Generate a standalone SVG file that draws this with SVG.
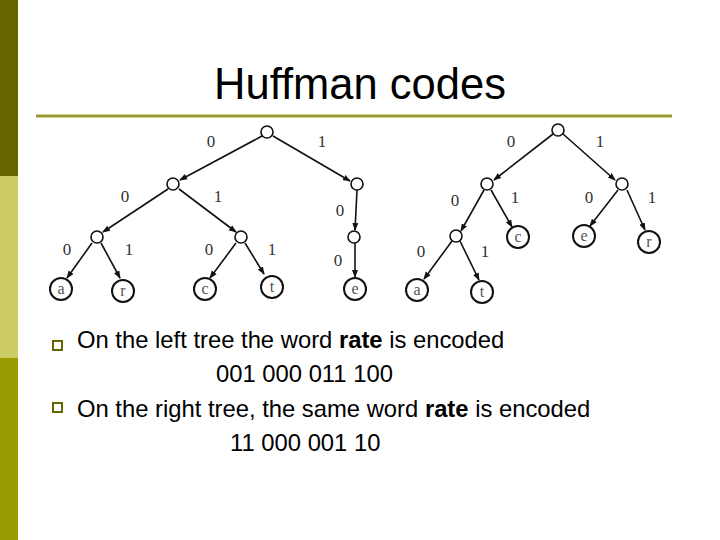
<svg xmlns="http://www.w3.org/2000/svg" width="720" height="540" viewBox="0 0 720 540">
<style>
.ed{stroke:#111;stroke-width:1.6;fill:none;marker-end:url(#ah)}
.in{fill:#fff;stroke:#111;stroke-width:1.6}
.lf{fill:#fff;stroke:#111;stroke-width:2}
.lt{font-family:"Liberation Serif",serif;font-size:17px;fill:#333;text-anchor:middle}
.bl{font-family:"Liberation Serif",serif;font-size:16px;fill:#555;text-anchor:middle}
.tx{font-family:"Liberation Sans",Arial,sans-serif;font-size:23.8px;fill:#000}
</style>
<defs><marker id="ah" markerWidth="8" markerHeight="8" refX="7" refY="4" orient="auto" markerUnits="userSpaceOnUse"><path d="M0,1 L8,4 L0,7 z" fill="#111"/></marker></defs>
<rect x="0" y="0" width="720" height="540" fill="#fff"/>
<rect x="0" y="0" width="18" height="176" fill="#666600"/>
<rect x="0" y="176" width="18" height="182" fill="#cccc66"/>
<rect x="0" y="358" width="18" height="182" fill="#999900"/>
<text x="360" y="99" font-family="Liberation Sans,Arial,sans-serif" font-size="43.5" text-anchor="middle">Huffman codes</text>
<line x1="36" y1="116" x2="672" y2="116" stroke="#999933" stroke-width="3"/>
<g id="connectors">
<line class="ed" x1="262" y1="136" x2="180" y2="180"/>
<line class="ed" x1="273" y1="136" x2="350" y2="181"/>
<line class="ed" x1="168" y1="189" x2="103" y2="232"/>
<line class="ed" x1="179" y1="189" x2="236" y2="232"/>
<line class="ed" x1="357" y1="190" x2="355" y2="230"/>
<line class="ed" x1="92" y1="243" x2="67" y2="278"/>
<line class="ed" x1="101" y1="243" x2="120" y2="278"/>
<line class="ed" x1="236" y1="243" x2="210" y2="278"/>
<line class="ed" x1="245" y1="243" x2="264" y2="274"/>
<line class="ed" x1="355" y1="243" x2="355" y2="277" stroke-width="2.5"/>
<line class="ed" x1="553" y1="134" x2="494" y2="180"/>
<line class="ed" x1="563" y1="134" x2="615" y2="180"/>
<line class="ed" x1="484" y1="190" x2="461" y2="231"/>
<line class="ed" x1="491" y1="190" x2="512" y2="227"/>
<line class="ed" x1="618" y1="190" x2="590" y2="226"/>
<line class="ed" x1="627" y1="190" x2="645" y2="230"/>
<line class="ed" x1="452" y1="241" x2="424" y2="279"/>
<line class="ed" x1="460" y1="241" x2="479" y2="280"/>
</g>
<g id="left-tree">
<circle class="in" cx="267" cy="132" r="6"/>
<circle class="in" cx="173" cy="184" r="6"/>
<circle class="in" cx="357" cy="184" r="6"/>
<circle class="in" cx="97" cy="237" r="6"/>
<circle class="in" cx="241" cy="237" r="6"/>
<circle class="in" cx="354" cy="237" r="6"/>
<g id="l-a"><circle class="lf" cx="61" cy="289" r="11"/><text class="bl" x="61" y="294">a</text></g>
<g id="l-r"><circle class="lf" cx="123" cy="291" r="11" stroke-width="1"/><text class="bl" x="123" y="296">r</text></g>
<g id="l-c"><circle class="lf" cx="205" cy="289" r="11"/><text class="bl" x="205" y="294">c</text></g>
<g id="l-t"><circle class="lf" cx="272" cy="287" r="11" stroke-width="1"/><text class="bl" x="272" y="292">t</text></g>
<g id="l-e"><circle class="lf" cx="355" cy="289" r="11"/><text class="bl" x="355" y="294">e</text></g>
<text class="lt" x="211" y="147">0</text><text class="lt" x="322" y="147">1</text>
<text class="lt" x="125" y="202">0</text><text class="lt" x="218" y="202">1</text>
<text class="lt" x="67" y="255">0</text><text class="lt" x="129" y="255">1</text>
<text class="lt" x="209" y="255">0</text><text class="lt" x="272" y="255">1</text>
<text class="lt" x="340" y="216">0</text><text class="lt" x="338" y="266">0</text>
</g>
<g id="right-tree">
<circle class="in" cx="558" cy="130" r="6"/>
<circle class="in" cx="487" cy="184" r="6"/>
<circle class="in" cx="622" cy="184" r="6"/>
<circle class="in" cx="456" cy="236" r="6"/>
<g id="r-c"><circle class="lf" cx="518" cy="237" r="11"/><text class="bl" x="518" y="242">c</text></g>
<g id="r-e"><circle class="lf" cx="584" cy="236" r="11"/><text class="bl" x="584" y="241">e</text></g>
<g id="r-r"><circle class="lf" cx="649" cy="242" r="11" stroke-width="1"/><text class="bl" x="649" y="247">r</text></g>
<g id="r-a"><circle class="lf" cx="417" cy="290" r="11"/><text class="bl" x="417" y="295">a</text></g>
<g id="r-t"><circle class="lf" cx="482" cy="292" r="11" stroke-width="1"/><text class="bl" x="482" y="297">t</text></g>
<text class="lt" x="511" y="147">0</text><text class="lt" x="600" y="147">1</text>
<text class="lt" x="455" y="206">0</text><text class="lt" x="515" y="203">1</text>
<text class="lt" x="589" y="203">0</text><text class="lt" x="652" y="203">1</text>
<text class="lt" x="421" y="257">0</text><text class="lt" x="485" y="257">1</text>
</g>
<g id="bullets">
<rect x="53" y="341" width="9" height="9" fill="none" stroke="#666600" stroke-width="2"/>
<rect x="53" y="403" width="9" height="9" fill="none" stroke="#666600" stroke-width="2"/>
<text class="tx" x="77" y="348">On the left tree the word <tspan font-weight="bold">rate</tspan> is encoded</text>
<text class="tx" x="216" y="382">001 000 011 100</text>
<text class="tx" x="77" y="417">On the right tree, the same word <tspan font-weight="bold">rate</tspan> is encoded</text>
<text class="tx" x="230" y="451">11 000 001 10</text>
</g>
</svg>
